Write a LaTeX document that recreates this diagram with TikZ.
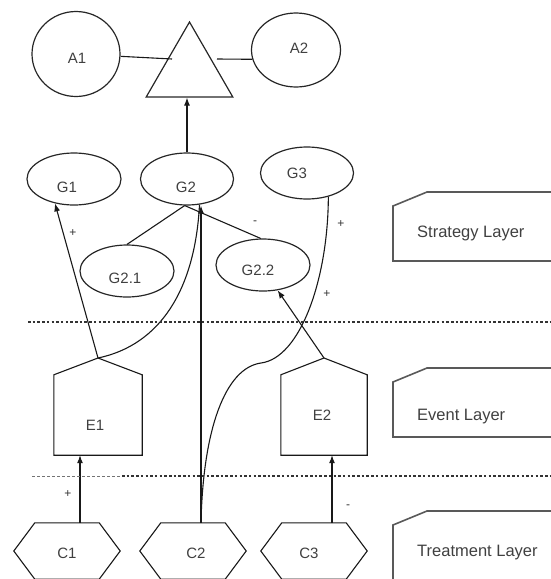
\documentclass[tikz,border=0pt]{standalone}
\usepackage{fontspec}
\setmainfont{Liberation Sans}
\usetikzlibrary{arrows.meta,shapes.geometric}
\begin{document}
\begin{tikzpicture}[x=1pt,y=-1pt,
  oval/.style={ellipse, draw=black!85, line width=1.2pt, inner sep=0pt},
  tri/.style={regular polygon, regular polygon sides=3, minimum size=100pt,
    draw=black!85, line width=1.2pt, inner sep=0pt},
  anchorbox/.style={rectangle, inner sep=0pt},
  txt/.style={font=\fontsize{15}{18}\selectfont, text=black!75, inner sep=0pt},
  laytxt/.style={font=\fontsize{16.5}{20}\selectfont, text=black!75, inner sep=0pt, anchor=west},
  sign/.style={font=\fontsize{12}{14}\selectfont, text=black!80, inner sep=0pt},
  link/.style={draw=black!90, line width=1.1pt},
  arr/.style={link, -{Latex[length=8pt,width=6pt]}},
  sep/.style={line width=2pt, dash pattern=on 2.5pt off 2.2pt, black!80},
  layer/.style={draw=black!65, line width=1.6pt, line join=miter}]
\useasboundingbox (0,0) rectangle (551,579);
\clip (0,0) rectangle (551,579);

% goal level: A1 -- aggregation triangle -- A2
\node[oval, minimum width=88pt, minimum height=85pt] (A1) at (76,54) {};
\node[oval, minimum width=89pt, minimum height=74pt] (A2) at (296,50) {};
\node[tri] (T) at (189.5,72) {};
\node[txt] (A1t) at (77,58) {A1};
\node[txt] (A2t) at (299,48) {A2};
\coordinate (Tin) at (172,59);
\coordinate (Tout) at (217,59);
\draw[link] (A1.357) -- (Tin);
\draw[link] (Tout) -- (A2.192);

% strategy layer goals
\node[oval, minimum width=94pt, minimum height=52pt] (G1) at (74,179) {};
\node[oval, minimum width=93pt, minimum height=52pt] (G2) at (187,179) {};
\node[oval, minimum width=93pt, minimum height=52pt] (G3) at (307,173) {};
\node[oval, minimum width=94pt, minimum height=52pt] (G21) at (127,271) {};
\node[oval, minimum width=94pt, minimum height=52pt] (G22) at (263,265) {};
\node[txt] (G1t) at (67,187) {G1};
\node[txt] (G2t) at (186,187) {G2};
\node[txt] (G3t) at (297,173) {G3};
\node[txt] (G21t) at (125,278) {G2.1};
\node[txt] (G22t) at (258,270) {G2.2};

\draw[arr] (G2.north) -- (G2.north |- T.corner 2);
\draw[link] (G2.265) -- (G21.north);
\draw[link] (G2.265) -- (G22.95);

% event layer
\node[anchorbox, minimum width=88pt, minimum height=80pt] (E1) at (98,415) {};
\node[anchorbox, minimum width=86pt, minimum height=80pt] (E2) at (324,415) {};
\coordinate (E1top) at (98,358);
\coordinate (E2top) at (324,358);
\draw[link] (E1.south west) -- (E1.north west) -- (E1top) -- (E1.north east) -- (E1.south east) -- cycle;
\draw[link] (E2.south west) -- (E2.north west) -- (E2top) -- (E2.north east) -- (E2.south east) -- cycle;
\node[txt] (E1t) at (95,425) {E1};
\node[txt] (E2t) at (322,415) {E2};

% treatment layer
\newcommand\hexpath[1]{%
  \draw[link] (#1.west) -- ([xshift=21pt]#1.north west) -- ([xshift=-21pt]#1.north east)
    -- (#1.east) -- ([xshift=-21pt]#1.south east) -- ([xshift=21pt]#1.south west) -- cycle;}
\node[anchorbox, minimum width=106pt, minimum height=56pt] (C1) at (67,551) {};
\node[anchorbox, minimum width=106pt, minimum height=56pt] (C2) at (193,551) {};
\node[anchorbox, minimum width=106pt, minimum height=56pt] (C3) at (314,551) {};
\hexpath{C1}\hexpath{C2}\hexpath{C3}
\node[txt] (C1t) at (67,553) {C1};
\node[txt] (C2t) at (196,553) {C2};
\node[txt] (C3t) at (309,553) {C3};

% influences
\draw[arr] ([xshift=13pt]C1.north) -- ([xshift=13pt]C1.north |- E1.south);
\draw[arr] ([xshift=18pt]C3.north) -- ([xshift=18pt]C3.north |- E2.south);
\draw[arr] ([xshift=8pt]C2.north) -- ([xshift=8pt]C2.north |- G2.south);
\draw[arr] (E1top) -- (G1.232);
\draw[link] (E1top) .. controls (160,345) and (195,290) .. (G2.296);
\coordinate (bend) at (261,363);
\draw[link] ([xshift=8pt]C2.north) .. controls (203,430) and (225,368) .. (bend)
  .. controls (300,358) and (328,280) .. (G3.312);
\draw[arr] (E2top) -- (G22.300);

\node[sign] (s1) at (73,233) {+};
\node[sign] (s2) at (255,223) {-};
\node[sign] (s3) at (341,224) {+};
\node[sign] (s4) at (327,294) {+};
\node[sign] (s5) at (68,494) {+};
\node[sign] (s6) at (348,507) {-};

% layer separators
\draw[sep] (28,322) -- (551,322);
\draw[black!55, line width=1pt, dash pattern=on 3pt off 2pt] (32,476) -- (122,476);
\draw[sep] (122,476) -- (551,476);

% layer tags
\draw[layer] (560,192) -- (427,192) -- (393,206) -- (393,261) -- (560,261);
\draw[layer] (560,368) -- (427,368) -- (393,382) -- (393,437) -- (560,437);
\draw[layer] (560,511) -- (427,511) -- (393,525) -- (393,590);
\node[laytxt] (L1) at (417,233) {Strategy Layer};
\node[laytxt] (L2) at (417,417) {Event Layer};
\node[laytxt] (L3) at (417,553) {Treatment Layer};
\end{tikzpicture}
\end{document}
